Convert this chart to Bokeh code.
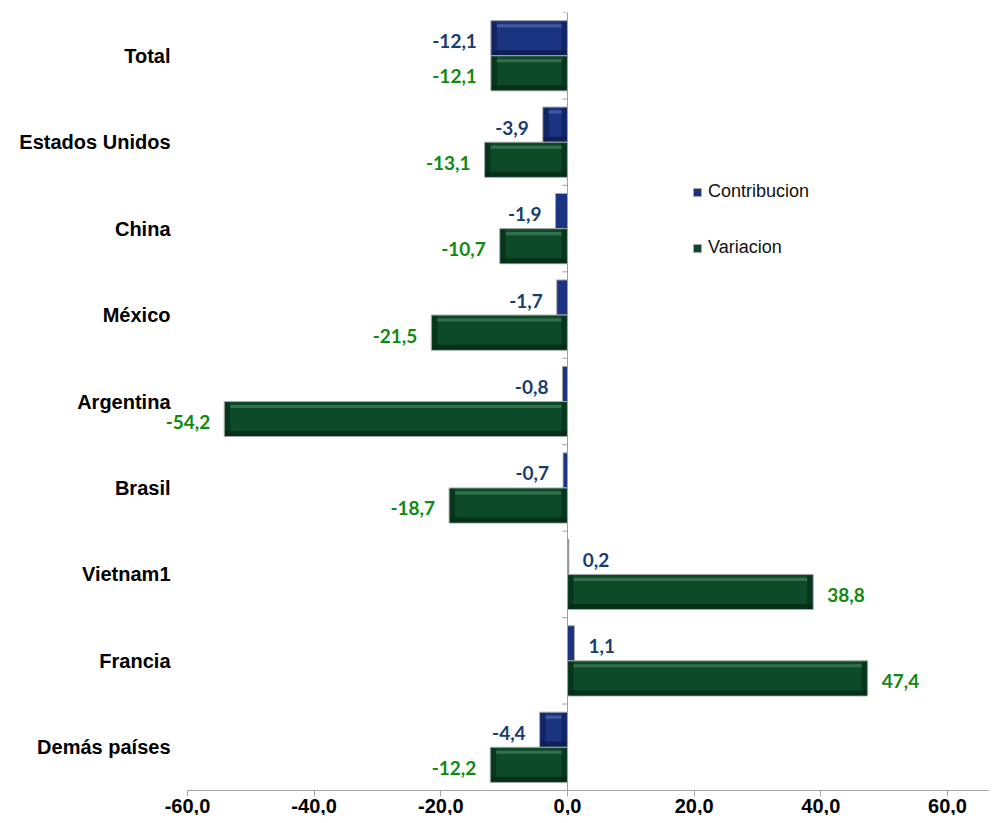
from bokeh.plotting import figure
from bokeh.models import ColumnDataSource, Span, Legend, LegendItem, FixedTicker
from bokeh.core.properties import value
from bokeh.embed import file_html
from bokeh.resources import INLINE

categories = ["Total", "Estados Unidos", "China", "México", "Argentina",
              "Brasil", "Vietnam1", "Francia", "Demás países"]
contribucion = [-12.1, -3.9, -1.9, -1.7, -0.8, -0.7, 0.2, 1.1, -4.4]
variacion = [-12.1, -13.1, -10.7, -21.5, -54.2, -18.7, 38.8, 47.4, -12.2]
x_ticks = [-60, -40, -20, 0, 20, 40, 60]
x_tick_labels = ["-60,0", "-40,0", "-20,0", "0,0", "20,0", "40,0", "60,0"]

n = len(categories)
ys = [n - 1 - i for i in range(n)]

W = 989
ZERO_PX = 567
PX = 380 / 60             # px per x unit
X_START = -ZERO_PX / PX
X_END = (W - ZERO_PX) / PX
PY = 86.2                 # px per category
BAR_H = 35 / PY
OFF = BAR_H / 2

def fmt(v):
    return f"{v:.1f}".replace(".", ",")

p = figure(width=W, height=815, x_range=(X_START, X_END), y_range=(-0.5, 8.5),
           output_backend="svg", toolbar_location=None,
           min_border_left=0, min_border_right=0, min_border_top=12, min_border_bottom=20)
p.grid.visible = False
p.outline_line_color = None
p.background_fill_color = "white"
p.yaxis.visible = False

def band(rows, height, color, alpha):
    if not rows:
        return
    s = ColumnDataSource(dict(y=[r[0] for r in rows], left=[r[1] for r in rows],
                              right=[r[2] for r in rows]))
    p.hbar(y="y", left="left", right="right", height=height, source=s,
           fill_color=color, fill_alpha=alpha, line_color=None)

def draw_series(vals, dy, main, light, dark, label_color):
    yc = [y + dy for y in ys]
    src = ColumnDataSource(dict(y=yc, left=[min(0, v) for v in vals], right=[max(0, v) for v in vals]))
    base = p.hbar(y="y", left="left", right="right", height=BAR_H, source=src,
                  fill_color=main, line_color="#a8a8a8", line_width=1)
    ex = 6 / PX
    tops, bots, ends = [], [], []
    for y, v in zip(yc, vals):
        lo, hi = min(0, v), max(0, v)
        if hi - lo > 2.5 * ex:
            tops.append((y + BAR_H / 2 - 5 / PY, lo + ex, hi - ex))
            bots.append((y - BAR_H / 2 + 3 / PY, lo + 1 / PX, hi - 1 / PX))
            ends.append((y, lo + 1 / PX, lo + ex))
            ends.append((y, hi - ex, hi - 1 / PX))
    band(bots, 5 / PY, dark, 0.8)
    band(ends, BAR_H - 2 / PY, dark, 0.6)
    band(tops, 3 / PY, light, 0.8)
    neg = [(y, v) for y, v in zip(yc, vals) if v < 0]
    pos = [(y, v) for y, v in zip(yc, vals) if v >= 0]
    for grp, align, xo in ((neg, "right", -14), (pos, "left", 14)):
        if not grp:
            continue
        s = ColumnDataSource(dict(x=[v for _, v in grp], y=[y for y, _ in grp],
                                  t=[fmt(v) for _, v in grp]))
        p.text(x="x", y="y", text="t", source=s, text_align=align,
               text_baseline="middle", x_offset=xo, y_offset=3,
               text_color=label_color, text_font=value("Lato"),
               text_font_style="bold", text_font_size="19px")
    return base

blue = draw_series(contribucion, OFF, "#1a3482", "#4a64a8", "#0c1a4e", "#173d70")
green = draw_series(variacion, -OFF, "#0d4a29", "#3d7a57", "#042a15", "#118a11")

# zero line and category tick marks
p.add_layout(Span(location=0, dimension="height", line_color="#a0a0a0", line_width=1))
bounds = [i + 0.5 for i in range(-1, n)]
p.segment(x0=[-5 / PX] * len(bounds), x1=[0] * len(bounds), y0=bounds, y1=bounds,
          line_color="#a0a0a0", line_width=1)

# category labels, right-aligned left of the -60 end of the value axis
cat_src = ColumnDataSource(dict(x=[x_ticks[0]] * n, y=ys, t=categories))
p.text(x="x", y="y", text="t", source=cat_src, text_align="right", text_baseline="middle",
       x_offset=-17, text_color="black", text_font=value("Liberation Sans"),
       text_font_style="bold", text_font_size="20px")

# x axis
xa = p.xaxis[0]
xa.bounds = (x_ticks[0], X_END)
xa.ticker = FixedTicker(ticks=x_ticks)
xa.major_label_overrides = {t: l for t, l in zip(x_ticks, x_tick_labels)}
xa.axis_line_color = "#a6a6a6"
xa.major_tick_line_color = "#a6a6a6"
xa.major_tick_in = 0
xa.major_tick_out = 6
xa.minor_tick_line_color = None
xa.major_label_standoff = 2
xa.major_label_text_font = "Liberation Sans"
xa.major_label_text_font_style = "bold"
xa.major_label_text_font_size = "20px"
xa.major_label_text_color = "black"

legend = Legend(items=[LegendItem(label="Contribucion", renderers=[blue]),
                       LegendItem(label="Variacion", renderers=[green])],
                location=(692, 532), border_line_color=None, background_fill_alpha=0,
                padding=0, margin=0, glyph_width=10, glyph_height=10, label_standoff=6,
                spacing=35, label_height=20, label_text_font="Liberation Sans",
                label_text_font_size="18px", label_text_color="#111111")
p.add_layout(legend)

open("out.html", "w").write(file_html(p, INLINE))
